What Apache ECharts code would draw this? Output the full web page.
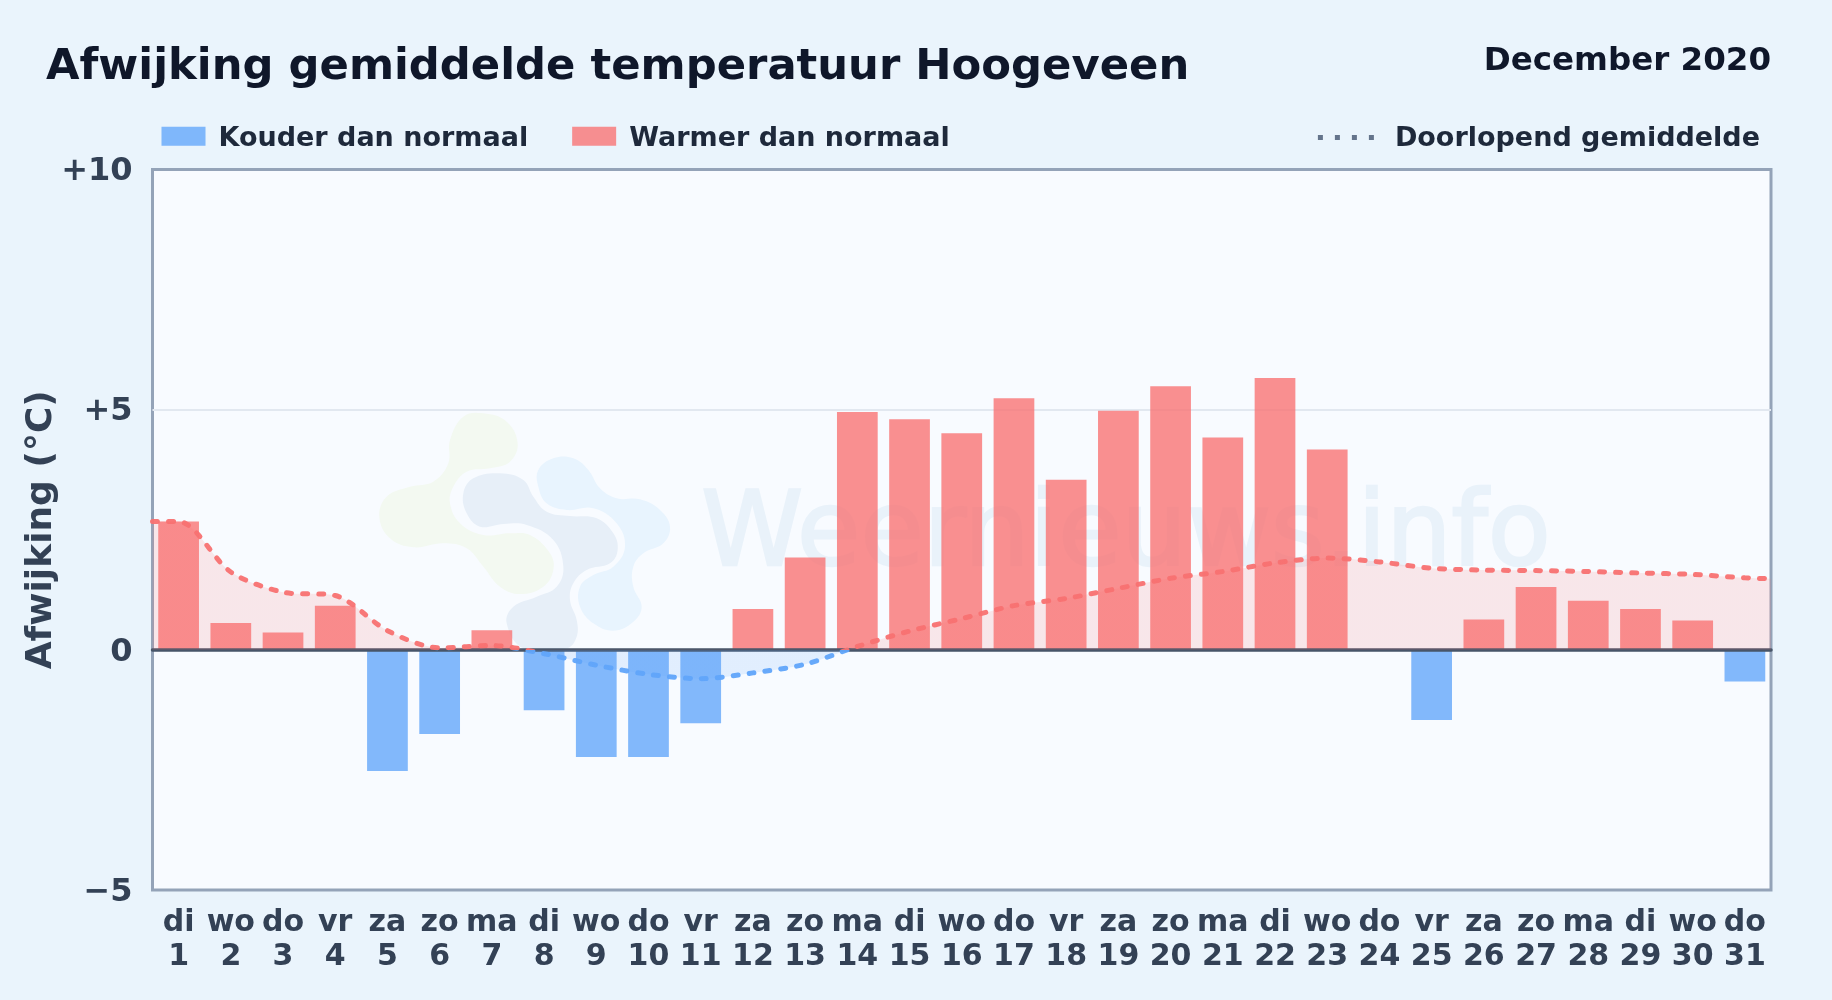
<!DOCTYPE html>
<html><head><meta charset="utf-8">
<style>html,body{margin:0;padding:0;background:#eaf4fc}#c{width:1832px;height:1000px}</style>
<script src="https://cdn.jsdelivr.net/npm/echarts@6/dist/echarts.min.js"></script>
</head><body><div id="c"></div>
<script>
const weekdays = ['di','wo','do','vr','za','zo','ma','di','wo','do','vr','za','zo','ma','di','wo','do','vr','za','zo','ma','di','wo','do','vr','za','zo','ma','di','wo','do'];
const days = ['1','2','3','4','5','6','7','8','9','10','11','12','13','14','15','16','17','18','19','20','21','22','23','24','25','26','27','28','29','30','31'];
const deviation = [2.67,0.56,0.36,0.92,-2.52,-1.75,0.41,-1.26,-2.23,-2.23,-1.53,0.85,1.92,4.95,4.80,4.51,5.24,3.54,4.98,5.49,4.42,5.66,4.17,0,-1.46,0.63,1.31,1.02,0.85,0.61,-0.66];
const runningMean = [2.67,1.62,1.20,1.13,0.40,0.04,0.09,-0.08,-0.32,-0.51,-0.60,-0.48,-0.30,0.07,0.39,0.65,0.92,1.07,1.28,1.49,1.63,1.81,1.91,1.83,1.70,1.66,1.65,1.63,1.60,1.57,1.50];
const lineStart = 2.67, lineEnd = 1.48;
const yTicks = {'10':'+10','5':'+5','0':'0','-5':'\u22125'};
const font = '"DejaVu Sans"';
const L=152.5,R=1771,T=169.5,B=890;
const logo = {
 green:[[340,80],[400,70],[470,95],[503,160],[480,215],[420,235],[350,245],[310,290],[300,340],[330,400],[400,435],[480,430],[540,435],[600,490],[610,540],[580,590],[510,612],[450,590],[400,530],[350,475],[280,460],[190,472],[120,445],[88,380],[110,320],[180,290],[250,275],[295,220],[300,150]],
 slate:[[340,310],[370,265],[450,250],[520,270],[550,320],[590,365],[660,378],[740,385],[790,430],[803,480],[780,520],[710,540],[670,580],[660,630],[680,690],[680,740],[650,775],[520,775],[470,700],[490,650],[560,620],[620,590],[640,530],[610,450],[530,405],[460,402],[390,410],[350,370]],
 blue:[[565,240],[610,205],[670,205],[715,240],[750,295],[800,325],[870,328],[930,360],[960,410],[940,460],[880,490],[850,530],[850,590],[875,650],[850,695],[790,722],[730,700],[690,650],[690,590],[730,555],[790,530],[825,470],[800,400],[730,355],[650,360],[590,340],[565,290]]
};
const logoColor = {green:'#f3f9f1',slate:'#e7eff8',blue:'#e8f4fe'};
const toPage = p=>[350+p[0]/3,390+p[1]/3];
const graphics = Object.keys(logo).map(k=>({type:'polygon',z:1,silent:true,shape:{points:logo[k].map(toPage),smooth:0.4},style:{fill:logoColor[k]}}));
graphics.push({type:'text',z:1,silent:true,left:700,top:485,style:{text:'Weernieuws.info',font:'normal 103px '+font,fill:'#e9f2fa',stroke:'#e9f2fa',lineWidth:2.5}});
graphics.push({type:'text',left:46,top:46,style:{text:'Afwijking gemiddelde temperatuur Hoogeveen',font:'bold 43.3px '+font,fill:'#0f172a'}});
graphics.push({type:'text',right:61,top:45,style:{text:'December 2020',font:'bold 32.5px '+font,fill:'#0f172a',align:'right'}});
const legendText = {fontFamily:font,fontWeight:'bold',fontSize:27,color:'#1e293b'};
const tickStyle = {fontFamily:font,fontWeight:'bold',fontSize:32,color:'#334155'};
const chart = echarts.init(document.getElementById('c'));
chart.setOption({
 animation:false,
 backgroundColor:'#eaf4fc',
 textStyle:{fontFamily:font},
 graphic:graphics,
 legend:[
  {left:161.5,top:125.3,padding:0,itemWidth:44,itemHeight:19,itemGap:44,icon:'rect',data:['Kouder dan normaal','Warmer dan normaal'],formatter:'{a|{name}}',textStyle:Object.assign({rich:{a:Object.assign({padding:[5,0,0,8]},legendText)}},legendText),selectedMode:false},
  {right:72,top:125.5,padding:0,itemWidth:56,itemHeight:5,itemGap:20,data:[{name:'Doorlopend gemiddelde',icon:'path://M0 0h5v5h-5zM17 0h5v5h-5zM34 0h5v5h-5zM51 0h5v5h-5z',itemStyle:{color:'#64748b',borderWidth:0,opacity:1}}],formatter:'{a|{name}}',textStyle:Object.assign({rich:{a:Object.assign({padding:[3,0,0,16]},legendText)}},legendText),selectedMode:false}
 ],
 grid:{left:L,right:1832-R,top:T,bottom:1000-B,show:true,backgroundColor:'#f8fbff',borderColor:'#94a3b8',borderWidth:3,containLabel:false},
 xAxis:[
  {type:'category',position:'bottom',data:weekdays.map((w,i)=>w+'\n'+days[i]),axisLine:{show:false,onZero:false},axisTick:{show:false},splitLine:{show:false},
   axisLabel:{interval:0,margin:16,lineHeight:34,fontFamily:font,fontWeight:'bold',fontSize:30,color:'#334155'}},
  {type:'value',position:'bottom',min:0.5,max:31.5,z:5,axisLine:{show:true,onZero:true,lineStyle:{color:'#475569',width:3.5}},axisTick:{show:false},axisLabel:{show:false},splitLine:{show:false}}
 ],
 yAxis:{type:'value',min:-5,max:10,interval:5,axisLine:{show:false},axisTick:{show:false},
  splitLine:{show:true,showMinLine:false,showMaxLine:false,lineStyle:{color:'#e2e8f0',width:2}},
  axisLabel:Object.assign({margin:20,formatter:v=>'{t|'+yTicks[String(v)]+'}',rich:{t:Object.assign({padding:[5,0,0,0]},tickStyle)}},tickStyle),
  name:'Afwijking (\u00b0C)',nameLocation:'middle',nameGap:93,nameMoveOverlap:false,nameTextStyle:{fontFamily:font,fontWeight:'bold',fontSize:36,color:'#334155'}},
 visualMap:{show:false,type:'piecewise',seriesIndex:2,dimension:1,pieces:[{gt:0,lte:10,color:'#f87171'},{gt:-5,lte:0,color:'#60a5fa'}]},
 series:[
  {name:'Kouder dan normaal',type:'bar',xAxisIndex:0,barWidth:'78%',barGap:'-100%',z:3,itemStyle:{color:'rgba(96,165,250,0.78)'},data:deviation.map(v=>v<0?v:null)},
  {name:'Warmer dan normaal',type:'bar',xAxisIndex:0,barWidth:'78%',barGap:'-100%',z:3,itemStyle:{color:'rgba(248,113,113,0.78)'},data:deviation.map(v=>v>0?v:null)},
  {name:'Doorlopend gemiddelde',type:'line',xAxisIndex:1,z:6,smooth:0.3,showSymbol:false,symbol:'none',
   lineStyle:{width:5,type:[5,11],cap:'round',opacity:0.95},areaStyle:{opacity:0.15,origin:0},
   data:[[0.5,lineStart]].concat(runningMean.map((v,i)=>[i+1,v]),[[31.5,lineEnd]])}
 ]
});
</script></body></html>
